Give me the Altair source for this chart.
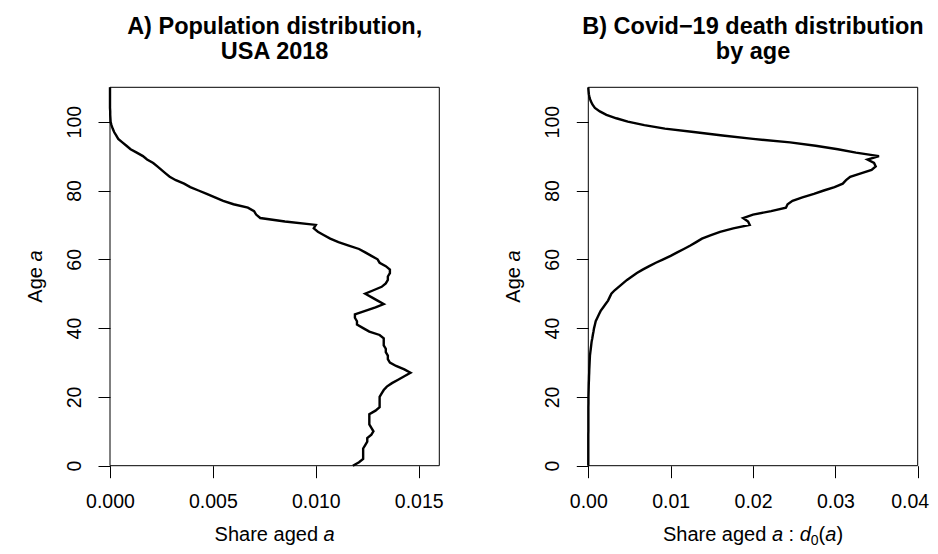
import altair as alt
import pandas as pd

# ---------------- data ----------------
ages = list(range(0, 111))

pop_share = [
    0.0118, 0.0121, 0.0123, 0.0123, 0.0123, 0.0123, 0.0124, 0.0125, 0.0125, 0.0127,   # 0-9
    0.0128, 0.0127, 0.0126, 0.0126, 0.0126, 0.0126, 0.0129, 0.0131, 0.0131, 0.0131,   # 10-19
    0.0131, 0.0132, 0.0133, 0.01345, 0.0137, 0.0140, 0.0143, 0.0146, 0.0143, 0.0139,  # 20-29
    0.0136, 0.0135, 0.0135, 0.0134, 0.0134, 0.0133, 0.0133, 0.0133, 0.0131, 0.0126,   # 30-39
    0.0123, 0.0120, 0.0120, 0.0119, 0.0119, 0.0124, 0.0129, 0.0133, 0.0130, 0.0127,   # 40-49
    0.0124, 0.0128, 0.0132, 0.0134, 0.0135, 0.0135, 0.0136, 0.0136, 0.0134, 0.0131,   # 50-59
    0.0130, 0.0127, 0.0124, 0.0121, 0.0116, 0.0111, 0.0107, 0.0104, 0.0101, 0.0099,   # 60-69
    0.0100, 0.0085, 0.0073, 0.0071, 0.0070, 0.0067, 0.0060, 0.0055, 0.0051, 0.0047,   # 70-79
    0.0043, 0.0039, 0.0036, 0.0032, 0.0029, 0.0027, 0.0025, 0.0023, 0.0021, 0.0018,   # 80-89
    0.0016, 0.0013, 0.0010, 0.0008, 0.0006, 0.0004, 0.0003, 0.0002, 0.00013, 0.00007, # 90-99
    0.00003, 0.00002, 0.00001, 0.00001, 0.0, 0.0, 0.0, 0.0, 0.0, 0.0, 0.0,            # 100-110
]

death_share = [
    0.0, 0.0, 0.0, 0.0, 0.0, 0.0, 0.0, 0.0, 0.0, 0.0,                                 # 0-9
    0.00001, 0.00001, 0.00001, 0.00001, 0.00001, 0.00001, 0.00001, 0.00001, 0.00002, 0.00002,  # 10-19
    0.00002, 0.00003, 0.00004, 0.00005, 0.00006, 0.00008, 0.00009, 0.00011, 0.00012, 0.00014,  # 20-29
    0.00016, 0.00018, 0.0002, 0.00025, 0.0003, 0.00035, 0.0004, 0.00048, 0.00055, 0.00063,    # 30-39
    0.0007, 0.0008, 0.0009, 0.0011, 0.0013, 0.0015, 0.0018, 0.0021, 0.0024, 0.0026,   # 40-49
    0.0028, 0.0032, 0.0037, 0.0042, 0.0047, 0.0053, 0.0059, 0.0066, 0.0074, 0.0082,   # 50-59
    0.0091, 0.0100, 0.0108, 0.0116, 0.0124, 0.0131, 0.0138, 0.0149, 0.0160, 0.0176,   # 60-69
    0.0196, 0.0194, 0.0188, 0.0200, 0.0222, 0.0240, 0.0242, 0.0248, 0.0260, 0.0274,   # 70-79
    0.0286, 0.0299, 0.0309, 0.0313, 0.0318, 0.0331, 0.0344, 0.0349, 0.0347, 0.0339,   # 80-89
    0.0353, 0.0325, 0.0303, 0.0276, 0.0245, 0.0200, 0.0163, 0.0128, 0.0093, 0.0068,   # 90-99
    0.0048, 0.0034, 0.0022, 0.0014, 0.0008, 0.0005, 0.0003, 0.00015, 0.00007, 0.00003, 0.0,  # 100-110
]

age_domain = [0, 110]
age_ticks = [0, 20, 40, 60, 80, 100]
left_domain = [0, 0.016]
left_ticks = [0.0, 0.005, 0.010, 0.015]
right_domain = [0, 0.04]
right_ticks = [0.0, 0.01, 0.02, 0.03, 0.04]
left_title = ["A) Population distribution,", "USA 2018"]
right_title = ["B) Covid\u221219 death distribution", "by age"]

# ---------------- layout / styling ----------------
FONT = "Liberation Sans"
FS = 19.5          # tick label size
AFS = 20           # axis title size
TFS = 23.5         # panel title size
VW, VH = 922, 538  # whole drawing (autosize none) -- fits the window with its 8px margins

# plot boxes in view pixels: (left, right), shared top / bottom
BOX_L = (102.0, 580.3)
BOX_R = (431.3, 909.7)
BOX_T, BOX_B = 79.3, 457.7
GAP = 74           # distance from box to y-axis-title centre
XT_BASE = VH - 5   # baseline of x-axis titles
TICK = 12
LABEL_PAD = 24
EDGE_SHIFT = -8    # keep the last right-hand tick label inside the window

AW = {'S': 667, 'h': 556, 'a': 556, 'r': 333, 'e': 556, ' ': 278, 'g': 556,
      'd': 556, ':': 278, '(': 333, ')': 333, '0': 556, 'A': 667}


def tw(s, size):
    return sum(AW.get(c, 556) for c in s) * size / 1000.0


def text_piece(txt, x, y, style="normal", size=AFS, angle=0, align="left",
               baseline="alphabetic", weight="normal"):
    # leading spaces are collapsed by SVG: advance the anchor instead
    lead = len(txt) - len(txt.lstrip(" "))
    if align == "left" and lead:
        if angle == 270:
            y -= tw(" " * lead, size)
        else:
            x += tw(" " * lead, size)
    return alt.Chart(alt.Data(values=[{"t": txt.strip()}])).mark_text(
        font=FONT, fontSize=size, fontStyle=style, fontWeight=weight,
        color="black", align=align, baseline=baseline, angle=angle,
    ).encode(text="t:N", x=alt.value(x), y=alt.value(y))


def x_title_layers(pieces, i):
    total = sum(tw(p[0], p[2]) for p in pieces)
    cx = (BOX_L[i] + BOX_R[i]) / 2
    cur = cx - total / 2
    out = []
    for txt, style, size, dy in pieces:
        if txt.strip():
            out.append(text_piece(txt, cur, XT_BASE + dy, style=style, size=size))
        cur += tw(txt, size)
    return out


def y_title_layers(i):
    pieces = [("Age ", "normal"), ("a", "italic")]
    total = sum(tw(p[0], AFS) for p in pieces)
    cur = (BOX_T + BOX_B) / 2 + total / 2
    out = []
    for txt, style in pieces:
        out.append(text_piece(txt, BOX_L[i] - GAP, cur, style=style,
                              angle=270, baseline="middle"))
        cur -= tw(txt, AFS)
    return out


def title_layers(lines, i):
    cx = (BOX_L[i] + BOX_R[i]) / 2
    return [
        text_piece(lines[0], cx, BOX_T - 60, size=TFS, align="center",
                   baseline="middle", weight="bold"),
        text_piece(lines[1], cx, BOX_T - 35, size=TFS, align="center",
                   baseline="middle", weight="bold"),
    ]


def panel(values, xdomain, xticks, xfmt, i):
    df = pd.DataFrame({"age": ages, "share": values})
    xs = alt.Scale(domain=xdomain, range=[BOX_L[i], BOX_R[i]], nice=False, zero=False)
    ys = alt.Scale(domain=age_domain, range=[BOX_B, BOX_T], nice=False, zero=False)
    label_offset = {
        "condition": {"test": f"datum.value >= {xticks[-1]} - 1e-9", "value": EDGE_SHIFT},
        "value": 0,
    } if i == 1 else 0
    line = alt.Chart(df).mark_line(color="black", strokeWidth=2.4).encode(
        x=alt.X("share:Q", scale=xs,
                axis=alt.Axis(values=xticks, format=xfmt, title=None,
                              orient="bottom", offset=-(VH - BOX_B),
                              labelBaseline="middle", labelPadding=LABEL_PAD,
                              labelOffset=label_offset)),
        y=alt.Y("age:Q", scale=ys,
                axis=alt.Axis(values=age_ticks, title=None, orient="left",
                              offset=-BOX_L[i], labelAngle=270,
                              labelAlign="center", labelBaseline="middle",
                              labelPadding=LABEL_PAD)),
        order="age:Q",
    )
    box = alt.Chart(alt.Data(values=[{}])).mark_rect(
        fillOpacity=0, stroke="black", strokeWidth=1
    ).encode(
        x=alt.datum(xdomain[0]), x2=alt.datum(xdomain[1]),
        y=alt.datum(age_domain[0]), y2=alt.datum(age_domain[1]),
    )
    return alt.layer(line, box)


left = panel(pop_share, left_domain, left_ticks, ".3f", 0)
right = panel(death_share, right_domain, right_ticks, ".2f", 1)

left_pieces = [("Share aged ", "normal", AFS, 0), ("a", "italic", AFS, 0)]
right_pieces = [("Share aged ", "normal", AFS, 0), ("a", "italic", AFS, 0),
                (" : ", "normal", AFS, 0), ("d", "italic", AFS, 0),
                ("0", "normal", AFS * 0.7, 3.5), ("(", "normal", AFS, 0),
                ("a", "italic", AFS, 0), (")", "normal", AFS, 0)]

texts = (x_title_layers(left_pieces, 0) + x_title_layers(right_pieces, 1)
         + y_title_layers(0) + y_title_layers(1)
         + title_layers(left_title, 0) + title_layers(right_title, 1))

chart = alt.layer(left, right, *texts).resolve_scale(
    x="independent", y="independent"
).properties(
    width=VW, height=VH,
    autosize=alt.AutoSizeParams(type="none"),
    padding={"left": 0, "top": 0, "right": 0, "bottom": 0},
    background="white",
).configure_view(
    stroke="transparent"
).configure_axis(
    domain=False, grid=False, ticks=True, tickColor="black", tickSize=TICK,
    tickWidth=1, labelFont=FONT, labelFontSize=FS, labelColor="black",
    labelOverlap=False, labelFlush=False,
)

chart.save("out.html", embed_options={"renderer": "svg", "actions": False})
